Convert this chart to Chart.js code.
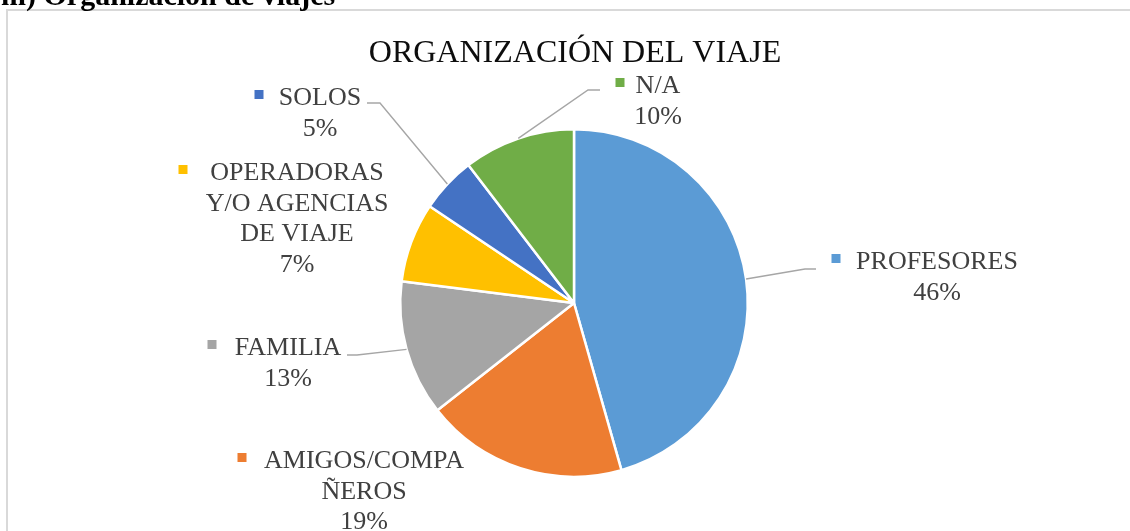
<!DOCTYPE html>
<html lang="es">
<head>
<meta charset="utf-8">
<script src="https://cdn.jsdelivr.net/npm/chart.js@4.4.1/dist/chart.umd.min.js"></script>
<style>
  html, body { margin: 0; padding: 0; background: #fff; overflow: hidden; }
  #marco { position: absolute; left: 6px; top: 9px; width: 1200px; height: 600px; border: 2px solid #D9D9D9; box-sizing: border-box; }
  #wrap { position: absolute; left: 0; top: 0; width: 1130px; height: 531px; }
</style>
</head>
<body>
<div id="marco"></div>
<div id="wrap"><canvas id="grafico"></canvas></div>
<script>
// Datos
const categorias = [['PROFESORES'], ['AMIGOS/COMPA', 'ÑEROS'], ['FAMILIA'], ['OPERADORAS', 'Y/O AGENCIAS', 'DE VIAJE'], ['SOLOS'], ['N/A']];
const valores = [45.6, 18.8, 12.6, 7.4, 5.2, 10.4];
const colores = ['#5B9BD5', '#ED7D31', '#A5A5A5', '#FFC000', '#4472C4', '#70AD47'];
const titulo = 'ORGANIZACIÓN DEL VIAJE';
const encabezado = 'm) Organización de viajes';

// Donde va cada etiqueta: centro del texto, línea base, cuadrito y guía (codo, final)
const etiquetas = [
    { x: 937, y: 269, mx: 836, guia: [[805, 269], [816, 269]] },
    { x: 364, y: 468, mx: 242, guia: null },
    { x: 288, y: 355, mx: 212, guia: [[357, 355], [347, 355]] },
    { x: 297, y: 180, mx: 183, guia: null },
    { x: 320, y: 105, mx: 259, guia: [[380, 103], [367, 103]] },
    { x: 658, y: 93, mx: 620, guia: [[588, 90], [600, 90]] }
];

const total = valores.reduce((a, b) => a + b, 0);

const etiquetasPlugin = {
    id: 'etiquetas',
    afterDraw(chart) {
        const ctx = chart.ctx;
        const arcs = chart.getDatasetMeta(0).data;
        ctx.save();

        // encabezado del documento (cortado arriba)
        ctx.fillStyle = '#000';
        ctx.font = 'bold 30px "Liberation Serif"';
        ctx.textAlign = 'left';
        ctx.textBaseline = 'alphabetic';
        ctx.fillText(encabezado, 1, 5);

        // título
        ctx.font = '32px "Liberation Serif"';
        ctx.textAlign = 'center';
        ctx.fillStyle = '#0d0d0d';
        ctx.fillText(titulo, 575, 62);

        arcs.forEach((arc, i) => {
            const e = etiquetas[i];
            if (e.guia) {
                const ang = (arc.startAngle + arc.endAngle) / 2;
                const r = arc.outerRadius;
                ctx.beginPath();
                ctx.moveTo(arc.x + Math.cos(ang) * r, arc.y + Math.sin(ang) * r);
                e.guia.forEach(p => ctx.lineTo(p[0], p[1]));
                ctx.strokeStyle = '#A6A6A6';
                ctx.lineWidth = 1.4;
                ctx.stroke();
            }
            ctx.fillStyle = colores[i];
            ctx.fillRect(e.mx - 4.5, e.y - 15, 9, 9);

            ctx.fillStyle = '#404040';
            ctx.font = '26px "Liberation Serif"';
            ctx.textAlign = 'center';
            const lineas = categorias[i].concat([Math.round(valores[i] / total * 100) + '%']);
            lineas.forEach((t, k) => ctx.fillText(t, e.x, e.y + k * 30.7));
        });
        ctx.restore();
    }
};

new Chart(document.getElementById('grafico'), {
    type: 'pie',
    data: {
        labels: categorias,
        datasets: [{
            data: valores,
            backgroundColor: colores,
            borderColor: '#ffffff',
            borderWidth: 2.5
        }]
    },
    options: {
        responsive: true,
        maintainAspectRatio: false,
        animation: false,
        events: [],
        layout: { padding: { top: 128, bottom: 53, left: 18, right: 0 } },
        plugins: { legend: { display: false }, tooltip: { enabled: false }, title: { display: false } }
    },
    plugins: [etiquetasPlugin]
});
</script>
</body>
</html>
